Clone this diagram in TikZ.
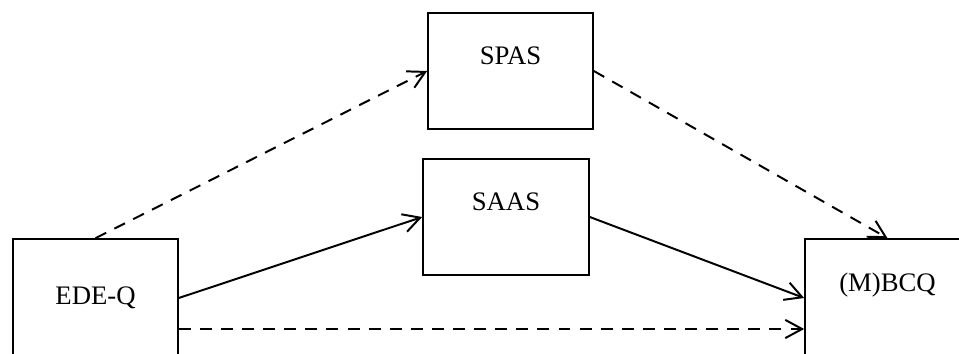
\documentclass[tikz,border=0pt]{standalone}
\usepackage{fontspec}
\setmainfont{Liberation Serif}
\usepackage{tikz}
\usetikzlibrary{
	arrows.meta,
	calc,
	positioning
}

\begin{document}
\begin{tikzpicture}[x=0.025cm, y=-0.025cm,
		box/.style={draw, line width=1.2pt, minimum width=165*0.025cm, minimum height=116*0.025cm, inner sep=0pt},
		bigbox/.style={box, minimum height=118*0.025cm},
		txt/.style={font=\fontsize{19}{23}\selectfont, inner sep=0pt},
		path/.style={line width=1.4pt, -{Straight Barb[length=12pt, width=13pt, line width=1.4pt]}},
		dashpath/.style={path, dash pattern=on 8.5pt off 6.5pt}]
		\useasboundingbox (0,0) rectangle (959,354);
		% boxes
		\node[box] (SPAS) at (510.5,71) {};
		\node[box, minimum width=166*0.025cm] (SAAS) at (506,217) {};
		\node[bigbox] (EDEQ) at (95.5,298) {};
		\node[bigbox] (MBCQ) at (887.5,298) {};
		\node[txt] (SPAS-t) at (510.5,56) {SPAS};
		\node[txt] (SAAS-t) at (506,202) {SAAS};
		\node[txt] (EDEQ-t) at (95.5,298) {EDE-Q};
		\node[txt] (MBCQ-t) at (887.5,285) {(M)BCQ};
		% paths
		\draw[dashpath] (EDEQ.north) -- (SPAS.west);
		\draw[dashpath] (SPAS.east) -- (MBCQ.north);
		\draw[path] (EDEQ.east) -- (SAAS.west);
		\draw[path] (SAAS.east) -- (MBCQ.west);
		\draw[dashpath] ($(EDEQ.east)+(0,31)$) -- ($(MBCQ.west)+(0,31)$);
	\end{tikzpicture}
\end{document}
